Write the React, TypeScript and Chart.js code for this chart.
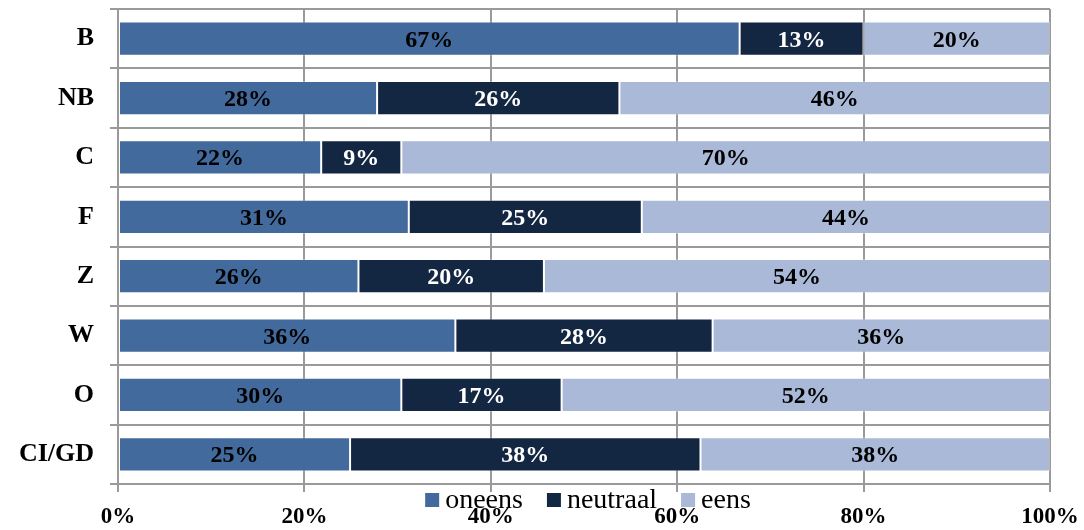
import React, { useEffect, useRef } from "react";
import { Chart, registerables } from "chart.js";

Chart.register(...registerables);

const categories = ["B", "NB", "C", "F", "Z", "W", "O", "CI/GD"];
const seriesNames = ["oneens", "neutraal", "eens"];
const oneens = [66.7, 27.8, 21.8, 31.2, 25.8, 36.2, 30.4, 24.9];
const neutraal = [13.3, 26.0, 8.6, 25.0, 19.9, 27.6, 17.2, 37.6];
const eens = [20.0, 46.2, 69.6, 43.8, 54.3, 36.2, 52.4, 37.5];
const xTicks = [0, 20, 40, 60, 80, 100];

const colors = ["#426a9c", "#132642", "#a9b9d7"];
const labelColors = ["#000000", "#ffffff", "#000000"];
const gridColor = "#9a9a9a";
const FONT = "'Liberation Serif', 'Times New Roman', serif";

const dataLabelPlugin = {
  id: "dataLabels",
  afterDatasetsDraw(chart: any) {
    const ctx = chart.ctx;
    ctx.save();
    ctx.font = `bold 24px ${FONT}`;
    ctx.textAlign = "center";
    ctx.textBaseline = "alphabetic";
    chart.data.datasets.forEach((ds: any, di: number) => {
      const meta = chart.getDatasetMeta(di);
      meta.data.forEach((el: any, i: number) => {
        const v = ds.data[i];
        const cx = (el.x + el.base) / 2;
        ctx.fillStyle = labelColors[di];
        ctx.fillText(Math.round(v) + "%", cx, el.y + 8);
      });
    });
    ctx.restore();
  },
};

const legendPlugin = {
  id: "customLegend",
  afterDraw(chart: any) {
    const ctx = chart.ctx;
    ctx.save();
    ctx.font = `28px ${FONT}`;
    ctx.textBaseline = "alphabetic";
    const box = 14;
    const boxGap = 6;
    const itemGap = 24;
    const items = chart.data.datasets.map((ds: any) => ({
      label: ds.label,
      color: ds.backgroundColor,
      w: ctx.measureText(ds.label).width,
    }));
    const total =
      items.reduce((s: number, it: any) => s + box + boxGap + it.w, 0) +
      itemGap * (items.length - 1);
    const ca = chart.chartArea;
    let x = (ca.left + ca.right) / 2 - total / 2 + 4;
    const yBox = 493;
    items.forEach((it: any) => {
      ctx.fillStyle = it.color;
      ctx.fillRect(x, yBox, box, box);
      x += box + boxGap;
      ctx.fillStyle = "#000000";
      ctx.fillText(it.label, x, 508);
      x += it.w + itemGap;
    });
    ctx.restore();
  },
};

export default function App() {
  const ref = useRef<HTMLCanvasElement | null>(null);
  useEffect(() => {
    if (!ref.current) return;
    const chart = new Chart(ref.current, {
      type: "bar",
      data: {
        labels: categories,
        datasets: [oneens, neutraal, eens].map((d, i) => ({
          label: seriesNames[i],
          data: d,
          backgroundColor: colors[i],
          borderWidth: 1,
          borderColor: "rgba(255,255,255,0.3)",
          borderSkipped: false,
          categoryPercentage: 1,
          barPercentage: 0.575,
        })),
      },
      options: {
        indexAxis: "y",
        responsive: false,
        animation: false,
        devicePixelRatio: 1,
        layout: { padding: { top: 9, right: 34, left: 0, bottom: 0 } },
        plugins: {
          legend: { display: false },
          tooltip: { enabled: false },
          title: { display: false },
        },
        scales: {
          x: {
            stacked: true,
            min: 0,
            max: 100,
            afterBuildTicks: (scale: any) => {
              scale.ticks = xTicks.map((v) => ({ value: v }));
            },
            afterFit: (scale: any) => {
              scale.height = 46;
              scale.paddingLeft = 0;
              scale.paddingRight = 0;
              scale.paddingTop = 0;
              scale.paddingBottom = 0;
            },
            grid: {
              color: gridColor,
              lineWidth: 2,
              drawTicks: true,
              tickLength: 8,
            },
            border: { display: true, color: gridColor, width: 2 },
            ticks: {
              callback: (v: any) => v + "%",
              color: "#000000",
              font: { family: FONT, size: 23, weight: "bold" },
              padding: 11,
              maxRotation: 0,
            },
          },
          y: {
            stacked: true,
            offset: true,
            afterFit: (scale: any) => {
              scale.width = 118;
              scale.paddingLeft = 0;
              scale.paddingRight = 0;
              scale.paddingTop = 0;
              scale.paddingBottom = 0;
            },
            grid: {
              offset: true,
              color: gridColor,
              lineWidth: 2,
              drawTicks: true,
              tickLength: 8,
            },
            border: { display: true, color: gridColor, width: 2 },
            ticks: {
              color: "#000000",
              font: { family: FONT, size: 26, weight: "bold" },
              padding: 16,
            },
          },
        },
      },
      plugins: [dataLabelPlugin, legendPlugin],
    } as any);
    return () => chart.destroy();
  }, []);
  return (
    <div style={{ position: "absolute", left: 0, top: 0, width: 1084, height: 530, background: "#ffffff" }}>
      <canvas ref={ref} width={1084} height={530} style={{ width: 1084, height: 530 }} />
    </div>
  );
}
